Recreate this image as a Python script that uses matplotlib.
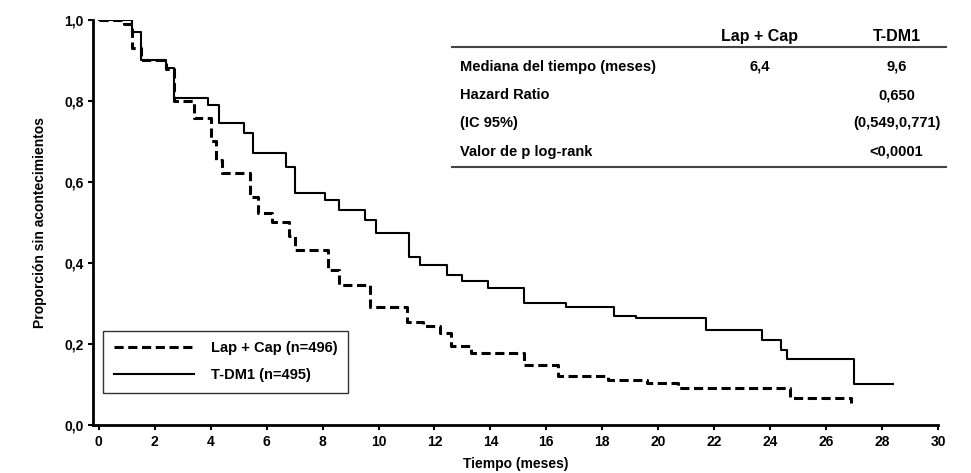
import matplotlib
matplotlib.use("Agg")
import matplotlib.pyplot as plt

lap_t = [0, 0.9, 1.2, 1.5, 2.4, 2.7, 3.4, 4.0, 4.2, 4.4, 5.4, 5.7, 6.2, 6.8, 7.0, 8.2, 8.6, 9.7, 11.0, 11.6, 12.2, 12.6, 13.3, 15.2, 16.4, 18.2, 19.6, 20.7, 24.7, 26.9]
lap_s = [1.0, 0.99, 0.93, 0.90, 0.877, 0.80, 0.758, 0.70, 0.654, 0.622, 0.563, 0.523, 0.50, 0.465, 0.432, 0.383, 0.346, 0.29, 0.255, 0.243, 0.227, 0.196, 0.178, 0.148, 0.122, 0.111, 0.103, 0.091, 0.067, 0.055]
tdm_t = [0, 1.2, 1.5, 2.4, 2.7, 3.9, 4.3, 5.2, 5.5, 6.7, 7.0, 8.1, 8.6, 9.5, 9.9, 11.1, 11.5, 12.45, 13.0, 13.9, 15.2, 16.7, 18.4, 19.2, 21.7, 23.7, 24.4, 24.6, 27.0, 28.4]
tdm_s = [1.0, 0.97, 0.90, 0.88, 0.807, 0.79, 0.745, 0.72, 0.67, 0.637, 0.573, 0.556, 0.53, 0.506, 0.474, 0.415, 0.395, 0.37, 0.355, 0.338, 0.30, 0.29, 0.27, 0.265, 0.235, 0.21, 0.185, 0.163, 0.10, 0.10]

xticks = list(range(0, 31, 2))
yticks = [0.0, 0.2, 0.4, 0.6, 0.8, 1.0]
ylabels = ["0,0", "0,2", "0,4", "0,6", "0,8", "1,0"]

plt.rcParams['font.family'] = ['Liberation Sans', 'DejaVu Sans']
fig = plt.figure(figsize=(9.71, 4.73), dpi=100)
ax = fig.add_axes([0.096, 0.1015, 0.87, 0.857])
ax.step(lap_t, lap_s, where='post', color='black', lw=2.2, ls=(0, (3, 1.5)), label='Lap + Cap (n=496)')
ax.step(tdm_t, tdm_s, where='post', color='black', lw=1.5, label='T-DM1 (n=495)')
ax.set_xlim(-0.2, 30)
ax.set_ylim(0, 1.0)
ax.set_xticks(xticks)
ax.set_yticks(yticks)
ax.set_yticklabels(ylabels)
for s in ['top', 'right']:
    ax.spines[s].set_visible(False)
for s in ['left', 'bottom']:
    ax.spines[s].set_linewidth(2)
ax.tick_params(labelsize=10, width=1.5)
for l in ax.get_xticklabels() + ax.get_yticklabels():
    l.set_fontweight('bold')
ax.set_xlabel('Tiempo (meses)', fontsize=10, fontweight='bold', labelpad=6)
ax.set_ylabel('Proporción sin acontecimientos', fontsize=10, fontweight='bold', labelpad=12)

leg = ax.legend(loc='lower left', bbox_to_anchor=(0.012, 0.08), frameon=True, fancybox=False,
                fontsize=10.5, handlelength=5.5, borderpad=0.7, labelspacing=0.9, borderaxespad=0,
                handletextpad=1.2)
leg.get_frame().set_edgecolor('black')
leg.get_frame().set_linewidth(1)
for t in leg.get_texts():
    t.set_fontweight('bold')

# table
kw = dict(transform=ax.transAxes, fontsize=10.5, fontweight='bold', va='center')
ax.text(0.789, 0.958, 'Lap + Cap', ha='center', fontsize=11.5, fontweight='bold', va='center', transform=ax.transAxes)
ax.text(0.951, 0.958, 'T-DM1', ha='center', fontsize=11.5, fontweight='bold', va='center', transform=ax.transAxes)
ax.plot([0.425, 1.01], [0.933, 0.933], transform=ax.transAxes, color='#444', lw=1.5, clip_on=False)
ax.plot([0.425, 1.01], [0.637, 0.637], transform=ax.transAxes, color='#444', lw=1.5, clip_on=False)
rows = [('Mediana del tiempo (meses)', '6,4', '9,6'), ('Hazard Ratio', '', '0,650'),
        ('(IC 95%)', '', '(0,549,0,771)'), ('Valor de p log-rank', '', '<0,0001')]
for i, (a, b, c) in enumerate(rows):
    y = 0.884 - i * 0.07
    ax.text(0.434, y, a, ha='left', **kw)
    ax.text(0.789, y, b, ha='center', **kw)
    ax.text(0.951, y, c, ha='center', **kw)

fig.savefig('out.png', dpi=100)
